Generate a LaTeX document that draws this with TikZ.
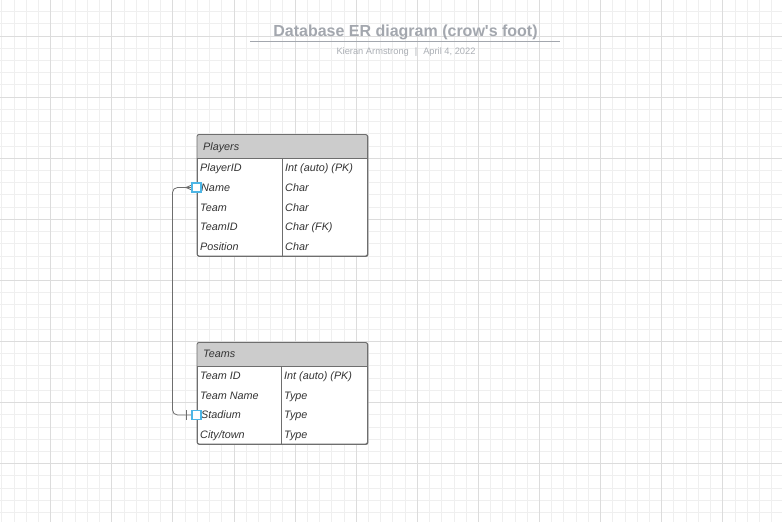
\documentclass[tikz,border=0pt]{standalone}
\usepackage{fontspec}
\setmainfont{Liberation Sans}
\definecolor{gridminor}{HTML}{EFEFEF}
\definecolor{gridmajor}{HTML}{DCDCDC}
\definecolor{boxline}{HTML}{6E6E6E}
\definecolor{hdrfill}{HTML}{CCCCCC}
\definecolor{txt}{HTML}{333333}
\definecolor{titlec}{HTML}{A3A7AE}
\definecolor{subc}{HTML}{ABAFB5}
\definecolor{connc}{HTML}{6E6E6E}
\definecolor{selc}{HTML}{4DB6E6}
\begin{document}
\begin{tikzpicture}[x=1pt,y=-1pt,
  minorg/.style={draw=gridminor,line width=0.9pt},
  majorg/.style={draw=gridmajor,line width=0.9pt},
  tbl/.style={draw=boxline,line width=0.9pt,rounded corners=2pt,fill=white,inner sep=0,anchor=north west},
  hdr/.style={fill=hdrfill},
  sep/.style={draw=boxline,line width=0.9pt},
  cell/.style={font=\fontsize{10.8}{12}\selectfont\itshape,text=txt,anchor=base west,inner sep=0},
  conn/.style={draw=connc,line width=0.8pt},
  selbox/.style={draw=selc,line width=1.3pt,fill=white,minimum size=9pt,inner sep=0}]
\useasboundingbox (0,0) rectangle (782,522);
\fill[white] (0,0) rectangle (782,522);
% grid
\foreach \i in {-4,...,60} {
  \pgfmathsetmacro\xx{50.7+\i*12.22}
  \draw[minorg] (\xx,0) -- (\xx,522);
}
\foreach \i in {-2,...,40} {
  \pgfmathsetmacro\yy{36+\i*12.22}
  \draw[minorg] (0,\yy) -- (782,\yy);
}
\foreach \i in {-1,...,12} {
  \pgfmathsetmacro\xx{50.7+\i*61.1}
  \draw[majorg] (\xx,0) -- (\xx,522);
}
\foreach \i in {-1,...,8} {
  \pgfmathsetmacro\yy{36+\i*61.1}
  \draw[majorg] (0,\yy) -- (782,\yy);
}
% title
\node[font=\fontsize{16}{19}\selectfont\bfseries,text=titlec,inner sep=0,anchor=base] (title) at (405.5,36) {Database ER diagram (crow\textquotesingle s foot)};
\draw[draw=titlec,line width=1.5pt] (250,41.5) -- (560,41.5);
\node[font=\fontsize{9.3}{11}\selectfont,text=subc,inner sep=0,anchor=base] (sub) at (406,54.5) {Kieran Armstrong\hspace{6pt}|\hspace{6pt}April 4, 2022};

% Players table
\node[tbl,minimum width=170.5pt,minimum height=121.5pt] (players) at (197,134.5) {};
\fill[hdr,rounded corners=2pt] (197,134.5) rectangle (367.5,158.5);
\fill[hdr] (197,150) rectangle (367.5,158.5);
\draw[boxline,line width=0.9pt,rounded corners=2pt] (197,134.5) rectangle (367.5,256);
\draw[sep] (197,158.5) -- (367.5,158.5);
\draw[sep] (282.5,158.5) -- (282.5,256);
\node[cell] (ph) at (203,150) {Players};
\node[cell] (p1a) at (200,171.5) {PlayerID};   \node[cell] (p1b) at (285,171.5) {Int (auto) (PK)};
\node[cell] (p2a) at (201,191) {Name};        \node[cell] (p2b) at (285,191) {Char};
\node[cell] (p3a) at (200,211) {Team};        \node[cell] (p3b) at (285,211) {Char};
\node[cell] (p4a) at (200,230) {TeamID};      \node[cell] (p4b) at (285,230) {Char (FK)};
\node[cell] (p5a) at (200,250) {Position};    \node[cell] (p5b) at (285,250) {Char};

% Teams table
\node[tbl,minimum width=170.5pt,minimum height=101.5pt] (teams) at (197,342.5) {};
\fill[hdr,rounded corners=2pt] (197,342.5) rectangle (367.5,366.5);
\fill[hdr] (197,358) rectangle (367.5,366.5);
\draw[boxline,line width=0.9pt,rounded corners=2pt] (197,342.5) rectangle (367.5,444);
\draw[sep] (197,366.5) -- (367.5,366.5);
\draw[sep] (281.5,366.5) -- (281.5,444);
\node[cell] (th) at (203,357) {Teams};
\node[cell] (t1a) at (200,379) {Team ID};     \node[cell] (t1b) at (284,379) {Int (auto) (PK)};
\node[cell] (t2a) at (200,399) {Team Name};   \node[cell] (t2b) at (284,399) {Type};
\node[cell] (t3a) at (201,418) {Stadium};     \node[cell] (t3b) at (284,418) {Type};
\node[cell] (t4a) at (200,438) {City/town};   \node[cell] (t4b) at (284,438) {Type};

% connector
\coordinate (pname) at (196.5,187.5);
\coordinate (tstad) at (196.5,415);
\coordinate (foot) at (186,187.5);
\coordinate (turn) at (172.5,300);
\draw[conn,rounded corners=5pt] (pname) -| (turn) |- (tstad);
\draw[conn] (foot) -- (196.5,183);
\draw[conn] (foot) -- (196.5,192);
\draw[conn] (186,410) -- (186,420);
\node[selbox] (s1) at (pname) {};
\node[selbox] (s2) at (tstad) {};
\end{tikzpicture}
\end{document}
